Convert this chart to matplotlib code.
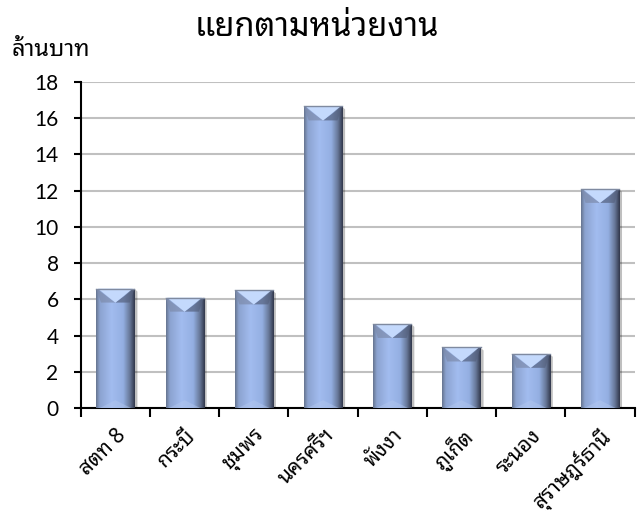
import matplotlib
matplotlib.use('Agg')
from matplotlib import pyplot as plt
from matplotlib.colors import LinearSegmentedColormap
from matplotlib.patches import Polygon
import numpy as np

categories = ['สตท 8', 'กระบี่', 'ชุมพร', 'นครศรีฯ', 'พังงา', 'ภูเก็ต', 'ระนอง', 'สุราษฎร์ธานี']
values = [6.6, 6.1, 6.5, 16.65, 4.65, 3.35, 3.0, 12.1]
y_ticks = list(range(0, 19, 2))

plt.rcParams['font.family'] = ['Noto Sans Thai Looped', 'DejaVu Sans']

bar_cmap = LinearSegmentedColormap.from_list('bevel', [
    (0.0, '#66748f'), (0.1, '#8ca3d0'), (0.4, '#a2bcef'),
    (0.7, '#94afe2'), (0.87, '#677898'), (1.0, '#30364a')])

fig = plt.figure(figsize=(6.41, 5.22), dpi=100)
ax = fig.add_axes([0.126, 0.218, 0.864, 0.625])

x = np.arange(len(categories))
bars = ax.bar(x, values, width=0.55, color='none', zorder=3)

ax.set_xlim(-0.5, len(categories) - 0.5)
ax.set_ylim(0, 18)

# pixel -> data conversions for the bevel
fig.canvas.draw()
px_y = 18 / ax.bbox.height
px_x = len(categories) / ax.bbox.width
grad = np.linspace(0, 1, 256).reshape(1, -1)

for b in bars:
    x0, w, h = b.get_x(), b.get_width(), b.get_height()
    # shadow
    ax.add_patch(Polygon([(x0 + w, 0), (x0 + w + 3 * px_x, 0),
                          (x0 + w + 3 * px_x, h - 3 * px_y), (x0 + w, h)],
                         closed=True, color='#000000', alpha=0.25, lw=0, zorder=2))
    im = ax.imshow(grad, extent=[x0, x0 + w, 0, h], aspect='auto',
                   cmap=bar_cmap, zorder=3, interpolation='bilinear')
    im.set_clip_path(b)
    d = 14 * px_y
    # top bevel: light V triangle with grey side facets
    ax.add_patch(Polygon([(x0, h), (x0 + 0.12 * w, h - d), (x0 + 0.5 * w, h - d)],
                         closed=True, color='#7d8bab', lw=0, zorder=4, alpha=0.7))
    ax.add_patch(Polygon([(x0 + w, h), (x0 + 0.88 * w, h - d), (x0 + 0.5 * w, h - d)],
                         closed=True, color='#55617e', lw=0, zorder=4, alpha=0.7))
    ax.add_patch(Polygon([(x0 + 0.04 * w, h), (x0 + 0.96 * w, h), (x0 + 0.5 * w, h - d)],
                         closed=True, color='#c4d9fc', lw=0, zorder=4))
    # bottom bevel
    ax.add_patch(Polygon([(x0 + 0.5 * w, 8 * px_y), (x0 + 0.92 * w, 0), (x0 + 0.08 * w, 0)],
                         closed=True, color='#b4c8ee', lw=0, zorder=4, alpha=0.45))
    ax.plot([x0, x0 + w], [h, h], color='#7f8aa0', lw=1, zorder=5)

ax.set_yticks(y_ticks)
ax.yaxis.grid(True, color='#c0c0c0', lw=1.5, zorder=0)
ax.set_axisbelow(True)

ax.set_xticks(x)
ax.set_xticklabels(categories, rotation=45, ha='right', rotation_mode='anchor',
                   fontsize=15)
ax.set_xticks(np.arange(len(categories) + 1) - 0.5, minor=True)
ax.tick_params(axis='x', which='major', length=0, pad=12)
ax.tick_params(axis='x', which='minor', length=6.5, width=1.5, direction='out')
ax.tick_params(axis='y', length=5, width=1.5, direction='out', labelsize=15, pad=11)
for t in ax.get_yticklabels():
    t.set_family(['Lato', 'DejaVu Sans'])
for t in ax.get_xticklabels():
    t.set_x(t.get_position()[0] + 0.18)

for s in ['top', 'right']:
    ax.spines[s].set_visible(False)
ax.spines['left'].set_linewidth(1.5)
ax.spines['bottom'].set_linewidth(1.5)

fig.text(0.495, 0.948, 'แยกตามหน่วยงาน', ha='center', va='center',
         fontsize=23.5, fontweight='bold')
fig.text(0.018, 0.904, 'ล้านบาท', ha='left', va='center',
         fontsize=17, fontweight='bold')

fig.savefig('out.png')
